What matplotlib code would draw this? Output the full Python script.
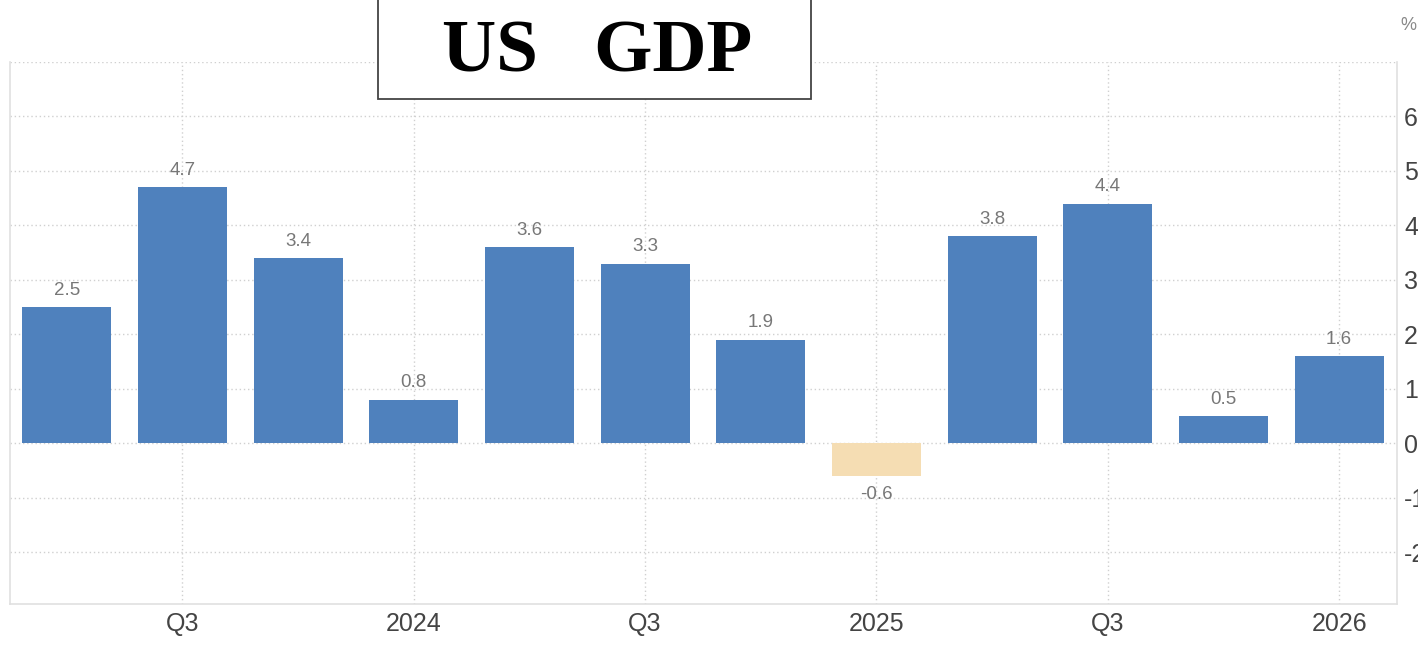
import matplotlib
matplotlib.use("Agg")
import matplotlib.pyplot as plt
from matplotlib.patches import Rectangle

values = [2.5, 4.7, 3.4, 0.8, 3.6, 3.3, 1.9, -0.6, 3.8, 4.4, 0.5, 1.6]
tick_idx = [1, 3, 5, 7, 9, 11]
tick_labels = ["Q3", "2024", "Q3", "2025", "Q3", "2026"]
y_ticks = [-2, -1, 0, 1, 2, 3, 4, 5, 6]
title = "US   GDP"

W, H = 1418, 656
fig = plt.figure(figsize=(W / 100, H / 100), dpi=100)
ax = fig.add_axes([10 / W, (H - 604) / H, (1397 - 10) / W, (604 - 62) / H])

x = list(range(len(values)))
colors = ["#4F81BD" if v >= 0 else "#F5DDB3" for v in values]
ax.bar(x, values, width=0.77, color=colors, zorder=3)

for xi, v in zip(x, values):
    if v >= 0:
        ax.annotate(f"{v:.1f}", (xi, v), xytext=(0, 6), textcoords="offset points",
                    ha="center", va="bottom", fontsize=13.5, color="#777777",
                    family="Liberation Sans")
    else:
        ax.annotate(f"{v:.1f}", (xi, v), xytext=(0, -7), textcoords="offset points",
                    ha="center", va="top", fontsize=13.5, color="#777777",
                    family="Liberation Sans")

ax.set_xlim(-0.49, 11.5)
ax.set_ylim(-2.95, 7.0)
ax.set_xticks(tick_idx)
ax.set_xticklabels(tick_labels)
ax.set_yticks(y_ticks)
ax.set_yticklabels([str(t) for t in y_ticks])
ax.yaxis.tick_right()
ax.tick_params(axis="y", length=0, pad=5, labelsize=18, labelcolor="#444444")
ax.tick_params(axis="x", length=0, pad=6, labelsize=18, labelcolor="#444444")
for lab in ax.get_xticklabels() + ax.get_yticklabels():
    lab.set_family("Liberation Sans")

ax.grid(True, linestyle=(0, (1, 2)), color="#D0D0D0", linewidth=1.0, zorder=0)
ax.axhline(7.0, color="#D0D0D0", linestyle=(0, (1, 2)), linewidth=1.0, zorder=0)
for side in ["left", "bottom", "right"]:
    ax.spines[side].set_color("#E0E0E0")
    ax.spines[side].set_linewidth(1.2)
ax.spines["top"].set_visible(False)

fig.text(1400 / W, (H - 25) / H, "%", ha="left", va="center", fontsize=13,
         color="#888888", family="Liberation Sans")

rect = Rectangle((378 / W, (H - 99) / H), (811 - 378) / W, 0.3,
                 transform=fig.transFigure, fill=True, facecolor="white",
                 edgecolor="#444444", linewidth=1.3, zorder=10)
fig.add_artist(rect)
fig.text(597 / W, (H - 53) / H, title, ha="center", va="center", fontsize=54,
         fontweight="bold", family="Liberation Serif", color="black", zorder=11)

fig.savefig("out.png", dpi=100)
